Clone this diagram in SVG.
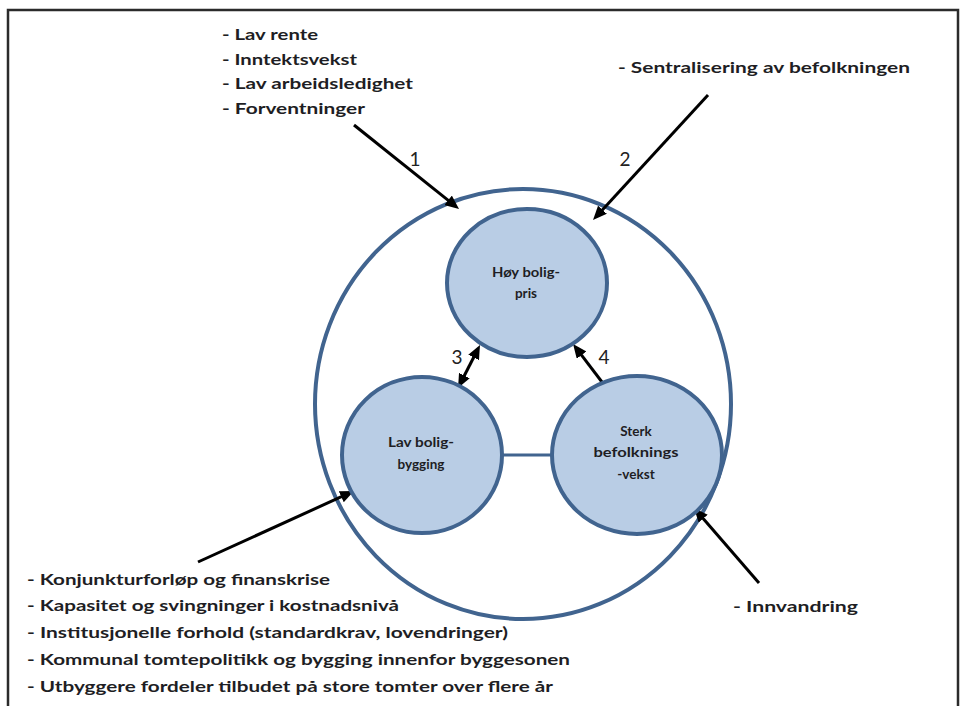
<svg xmlns="http://www.w3.org/2000/svg" width="967" height="706" viewBox="0 0 967 706">
<style>
.bg{fill:#fff}
.frame{fill:none;stroke:#2b2b2b;stroke-width:2.5}
.outer{fill:none;stroke:#41648f;stroke-width:4}
.node{fill:#b9cde5;stroke:#41648f;stroke-width:4}
.link{stroke:#41648f;stroke-width:3;fill:none}
.arr{stroke:#000;stroke-width:3;fill:none;marker-end:url(#ah)}
.both{marker-start:url(#ah)}
.lbl{font-family:Lato,"Liberation Sans",sans-serif;font-weight:700;font-size:16px;fill:#1e1e24}
.ntx{font-family:Lato,"Liberation Sans",sans-serif;font-weight:700;font-size:13.5px;fill:#1e1e24;text-anchor:middle}
.num{font-family:Lato,"Liberation Sans",sans-serif;font-weight:400;font-size:19px;fill:#222;text-anchor:middle}
</style>
<defs>
<marker id="ah" markerUnits="userSpaceOnUse" viewBox="0 0 14 12" markerWidth="14" markerHeight="12" refX="5" refY="6" orient="auto-start-reverse">
<path d="M0,0 L14,6 L0,12 z" fill="#000"/>
</marker>
</defs>
<rect class="bg" x="0" y="0" width="967" height="706"/>
<path class="frame" d="M8,712 L8,10 L958,10 L958,712"/>
<g id="outer">
<ellipse class="outer" cx="523" cy="404" rx="208" ry="215"/>
</g>
<g id="connectors">
<line class="link" x1="502" y1="455" x2="552" y2="455"/>
<line class="arr" x1="354" y1="125" x2="452" y2="203.4"/>
<line class="arr" x1="708" y1="95" x2="599.1" y2="213.4"/>
<line class="arr both" x1="462.1" y1="380" x2="475.9" y2="353"/>
<line class="arr" x1="605" y1="386" x2="578.5" y2="351.2"/>
<line class="arr" x1="198" y1="562" x2="345.8" y2="494.7"/>
<line class="arr" x1="759" y1="583" x2="699.9" y2="514.8"/>
<text class="num" x="415" y="166">1</text>
<text class="num" x="625" y="166">2</text>
<text class="num" x="457" y="364">3</text>
<text class="num" x="604" y="364">4</text>
</g>
<g id="node-hoy">
<ellipse class="node" cx="527" cy="283" rx="80" ry="74"/>
<text class="ntx" x="526" y="277" textLength="68" lengthAdjust="spacingAndGlyphs">Høy bolig-</text>
<text class="ntx" x="526" y="298">pris</text>
</g>
<g id="node-lav">
<ellipse class="node" cx="422" cy="455" rx="80" ry="78"/>
<text class="ntx" x="421" y="447" textLength="66" lengthAdjust="spacingAndGlyphs">Lav bolig-</text>
<text class="ntx" x="421" y="469">bygging</text>
</g>
<g id="node-sterk">
<ellipse class="node" cx="637" cy="455" rx="85" ry="79"/>
<text class="ntx" x="636" y="436">Sterk</text>
<text class="ntx" x="636" y="457" textLength="85" lengthAdjust="spacingAndGlyphs">befolknings</text>
<text class="ntx" x="636" y="479">-vekst</text>
</g>
<g id="factors-top">
<text class="lbl" x="222" y="40" textLength="96" lengthAdjust="spacingAndGlyphs">- Lav rente</text>
<text class="lbl" x="222" y="65" textLength="135" lengthAdjust="spacingAndGlyphs">- Inntektsvekst</text>
<text class="lbl" x="222" y="89" textLength="191" lengthAdjust="spacingAndGlyphs">- Lav arbeidsledighet</text>
<text class="lbl" x="222" y="114" textLength="143" lengthAdjust="spacingAndGlyphs">- Forventninger</text>
</g>
<g id="factor-sentral">
<text class="lbl" x="618" y="73" textLength="292" lengthAdjust="spacingAndGlyphs">- Sentralisering av befolkningen</text>
</g>
<g id="factors-bottom">
<text class="lbl" x="27" y="585" textLength="303" lengthAdjust="spacingAndGlyphs">- Konjunkturforløp og finanskrise</text>
<text class="lbl" x="27" y="611" textLength="372" lengthAdjust="spacingAndGlyphs">- Kapasitet og svingninger i kostnadsnivå</text>
<text class="lbl" x="27" y="638" textLength="481" lengthAdjust="spacingAndGlyphs">- Institusjonelle forhold (standardkrav, lovendringer)</text>
<text class="lbl" x="27" y="665" textLength="543" lengthAdjust="spacingAndGlyphs">- Kommunal tomtepolitikk og bygging innenfor byggesonen</text>
<text class="lbl" x="27" y="692" textLength="526" lengthAdjust="spacingAndGlyphs">- Utbyggere fordeler tilbudet på store tomter over flere år</text>
</g>
<g id="factor-innvandring">
<text class="lbl" x="733" y="612" textLength="125" lengthAdjust="spacingAndGlyphs">- Innvandring</text>
</g>
</svg>
